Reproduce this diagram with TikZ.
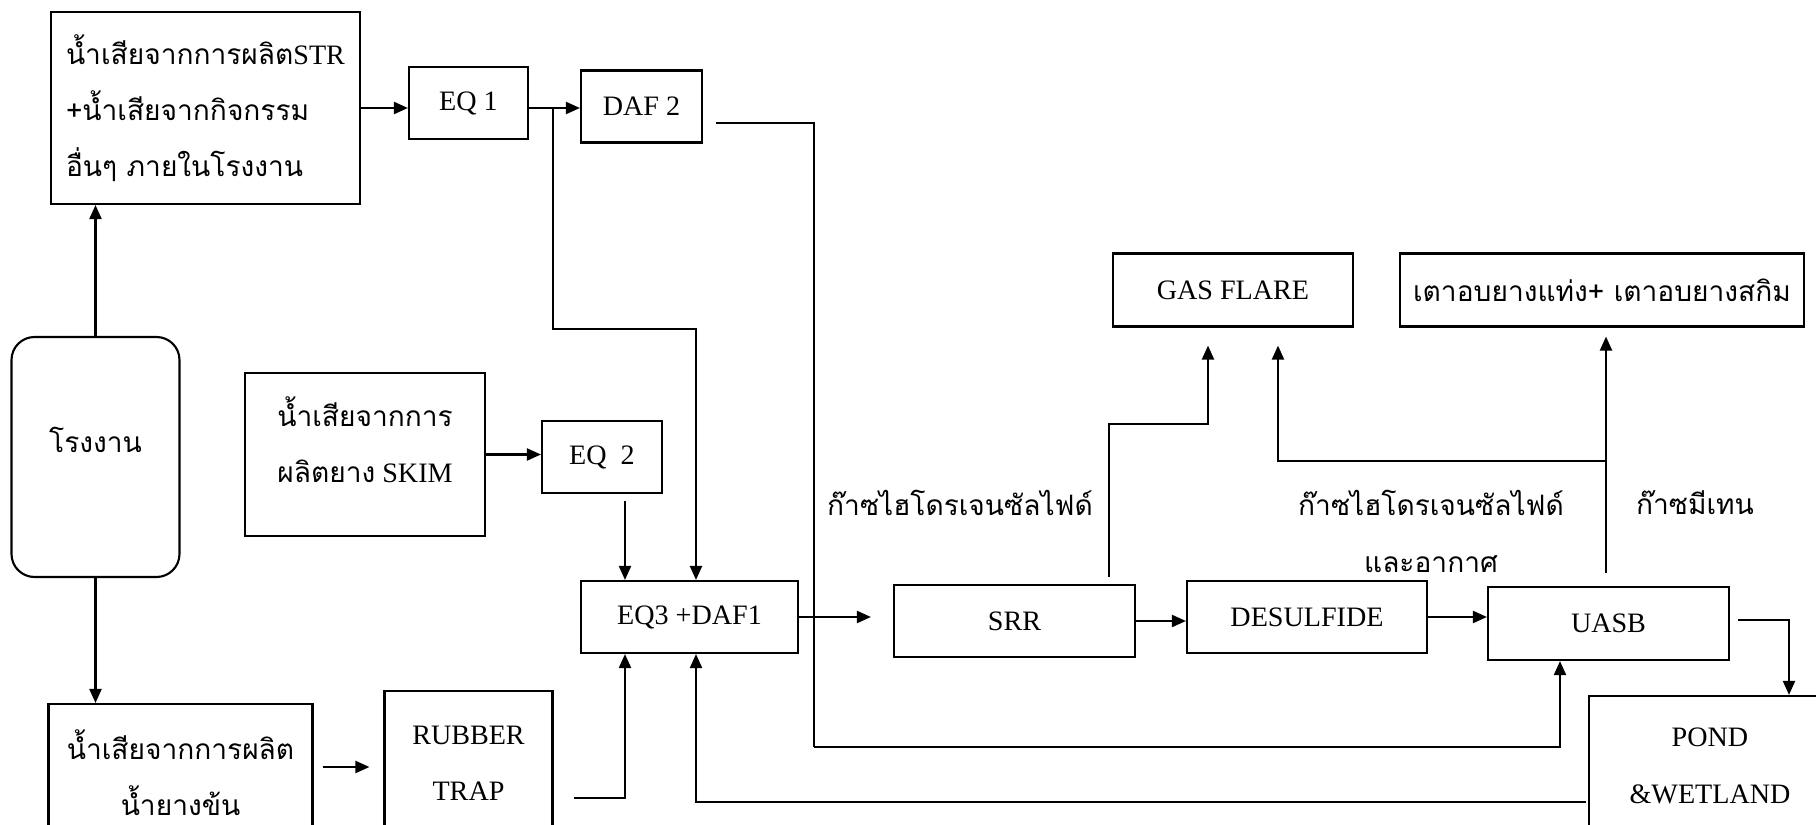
\documentclass[tikz,border=0pt]{standalone}
\usepackage{fontspec}
\setmainfont{Liberation Serif}
\newfontfamily\thai[Script=Thai]{Loma}
\usetikzlibrary{arrows.meta, positioning, calc}
\tikzset{
    box/.style={
        draw,
        line width=0.6pt,
        inner sep=0pt,
        align=center,
        minimum height=7.2mm
    },
    line/.style={line width=0.6pt},
    arrow/.style={-{Triangle[length=1.4mm,width=1.2mm]}, line width=0.6pt},
    every node/.style={font=\fontsize{8}{16}\selectfont}
}

\begin{document}
\begin{tikzpicture}[x=0.1mm,y=-0.1mm]
\useasboundingbox (0,0) rectangle (1816,825);
\clip (0,0) rectangle (1816,825);

% sources
\node[box, rounded corners=2.3mm, minimum width=16.8mm, minimum height=24mm] (plant) at (95.5,457)
    {\raisebox{3.4mm}{\thai โรงงาน}};
\node[box, minimum width=30.9mm, minimum height=19.2mm, align=left] (str) at (205.5,108)
    {{\thai น้ำเสียจากการผลิต}STR\\{\thai +น้ำเสียจากกิจกรรม}\\{\thai อื่นๆ ภายในโรงงาน}};
\node[box, minimum width=24mm, minimum height=16.3mm] (skim) at (365,454.5)
    {\raisebox{3mm}{\shortstack{{\thai น้ำเสียจากการ}\\[2.3mm]{\thai ผลิตยาง} SKIM}}};
\node[box, minimum width=26.4mm, minimum height=13.8mm] (latex) at (180.5,773)
    {{\thai น้ำเสียจากการผลิต}\\{\thai น้ำยางข้น}};

% treatment
\node[box, minimum width=11.9mm] (eq1) at (468.5,103) {EQ 1};
\node[box, minimum width=12.1mm] (daf2) at (641.5,106.5) {DAF 2};
\node[box, minimum width=12mm] (eq2) at (602,457) {EQ\ \ 2};
\node[box, minimum width=16.8mm, minimum height=14.4mm] (rubber) at (468.5,763) {RUBBER\\TRAP};
\node[box, minimum width=21.7mm] (eq3) at (689.5,617) {EQ3 +DAF1};
\node[box, minimum width=24.1mm] (srr) at (1014.5,621) {SRR};
\node[box, minimum width=24mm] (desulf) at (1307,617) {DESULFIDE};
\node[box, minimum width=24.1mm, minimum height=7.3mm] (uasb) at (1608.5,623.5) {UASB};
\node[box, minimum width=24.2mm, minimum height=14mm] (pond) at (1710,766) {POND\\\&WETLAND};
\node[box, minimum width=24mm, minimum height=7.3mm] (flare) at (1233,290) {GAS FLARE};
\node[box, minimum width=40.4mm, minimum height=7.3mm] (oven) at (1602,290)
    {{\thai เตาอบยางแท่ง+ เตาอบยางสกิม}};

% gas labels
\node (h2sa) at (960,503) {\thai ก๊าซไฮโดรเจนซัลไฟด์};
\node[align=center] (h2sb) at (1431,531.5) {{\thai ก๊าซไฮโดรเจนซัลไฟด์}\\{\thai และอากาศ}};
\node (ch4) at (1695,503) {\thai ก๊าซมีเทน};

% bends
\coordinate (split) at (553,108);
\coordinate (bend1) at (553,329);
\coordinate (drop1) at (696,329);
\coordinate (d2out) at (716,123);
\coordinate (rt1) at (814,747);
\coordinate (rt2) at (1560,747);
\coordinate (e2out) at ([xshift=2.3mm,yshift=-0.7mm]eq2.south);
\coordinate (u2) at (1789,620);
\coordinate (p1) at (1586,802);
\coordinate (p2) at (696,802);
\coordinate (r1) at (574,798);
\coordinate (r2) at (625,798);
\coordinate (s1) at (1109,577);
\coordinate (s2) at (1109,424);
\coordinate (s3) at (1208,424);
\coordinate (m1) at (1606,573);
\coordinate (m2) at (1606,461);
\coordinate (m3) at (1278,461);

% flow
\draw[arrow] (plant) -- (plant |- str.south);
\draw[arrow] (plant) -- (plant |- latex.north);
\draw[arrow] (str) -- (str -| eq1.west);
\draw[arrow] (eq1.east |- str) -- (str -| daf2.west);
\draw[arrow] (split) -- (bend1) -- (drop1) -- (drop1 |- eq3.north);
\draw[line] (d2out) -| (rt1);
\draw[arrow] (rt1) -- (rt2) -- (rt2 |- uasb.south);
\draw[arrow] (skim) -- (skim -| eq2.west);
\draw[arrow] (e2out) -- (e2out |- eq3.north);
\draw[arrow] ([xshift=0.9mm]latex.east |- 0,767) -- ([xshift=-1.4mm]rubber.west |- 0,767);
\draw[arrow] (r1) -- (r2) -- (r2 |- eq3.south);
\draw[arrow] (p1) -- (p2) -- (p2 |- eq3.south);
\draw[arrow] (eq3) -- ([xshift=-2.2mm]eq3 -| srr.west);
\draw[arrow] (srr) -- (srr -| desulf.west);
\draw[arrow] (desulf) -- (desulf -| uasb.west);
\draw[arrow] ([xshift=0.8mm]uasb.east |- u2) -- (u2) -- (u2 |- pond.north);

% gas
\draw[arrow] (s1) -- (s2) -- (s3) -- ([yshift=-1.8mm]s3 |- flare.south);
\draw[arrow] (m1) -- ([yshift=-0.9mm]m1 |- oven.south);
\draw[arrow] (m2) -- (m3) -- ([yshift=-1.8mm]m3 |- flare.south);
\end{tikzpicture}
\end{document}
